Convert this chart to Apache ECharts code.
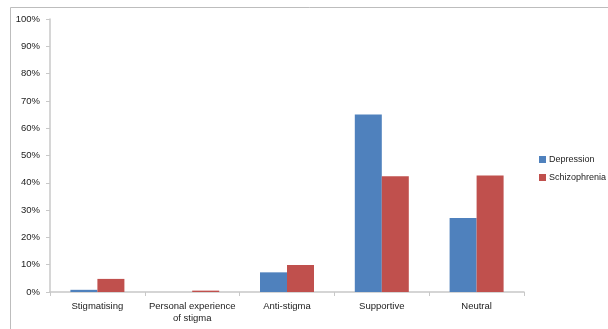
<!DOCTYPE html>
<html>
<head>
<meta charset="utf-8">
<script src="https://cdn.jsdelivr.net/npm/echarts@6/dist/echarts.min.js"></script>
<style>
  html, body { margin: 0; padding: 0; background: #fff; }
  #chart { width: 608px; height: 329px; }
</style>
</head>
<body>
<div id="chart"></div>
<script>
// Article sentiment categories by condition (share of articles, %)
const categories = ['Stigmatising', 'Personal experience\nof stigma', 'Anti-stigma', 'Supportive', 'Neutral'];
const depression = [0.8, 0, 7.2, 65, 27.1];
const schizophrenia = [4.8, 0.5, 9.9, 42.4, 42.7];
const yTicks = [0, 10, 20, 30, 40, 50, 60, 70, 80, 90, 100];

const font = 'Liberation Sans, Arial, sans-serif';
const axisGrey = '#c8c8c8';

const chart = echarts.init(document.getElementById('chart'), null, { renderer: 'canvas' });
chart.setOption({
  animation: false,
  backgroundColor: '#fff',
  graphic: [{
    type: 'rect',
    shape: { x: 10.5, y: 7.5, width: 640, height: 360 },
    style: { fill: 'none', stroke: '#bdbdbd', lineWidth: 1 },
    silent: true
  }],
  grid: { left: 50, right: 84, top: 19, bottom: 37, containLabel: false },
  legend: {
    orient: 'vertical',
    left: 539,
    top: 155,
    padding: 0,
    itemWidth: 7,
    itemHeight: 7,
    itemGap: 9,
    icon: 'rect',
    textStyle: { fontFamily: font, fontSize: 9, color: '#222', padding: [0, 0, 0, -2] },
    data: ['Depression', 'Schizophrenia']
  },
  xAxis: {
    type: 'category',
    data: categories,
    axisLine: { lineStyle: { color: axisGrey, width: 1.5 } },
    axisTick: { show: true, length: 4, lineStyle: { color: axisGrey } },
    axisLabel: { fontFamily: font, fontSize: 9.5, color: '#222', margin: 8, lineHeight: 12, interval: 0 }
  },
  yAxis: {
    type: 'value',
    min: yTicks[0],
    max: yTicks[yTicks.length - 1],
    interval: yTicks[1] - yTicks[0],
    splitLine: { show: false },
    axisLine: { show: true, lineStyle: { color: axisGrey, width: 1.5 } },
    axisTick: { show: true, length: 4, lineStyle: { color: axisGrey } },
    axisLabel: { fontFamily: font, fontSize: 9.5, color: '#222', margin: 10, formatter: v => v + '%' }
  },
  series: [
    {
      name: 'Depression',
      type: 'bar',
      data: depression,
      barWidth: 27,
      barGap: '0%',
      itemStyle: { color: '#4F81BD' }
    },
    {
      name: 'Schizophrenia',
      type: 'bar',
      data: schizophrenia,
      barWidth: 27,
      barGap: '0%',
      itemStyle: { color: '#C0504D' }
    }
  ]
});
</script>
</body>
</html>
